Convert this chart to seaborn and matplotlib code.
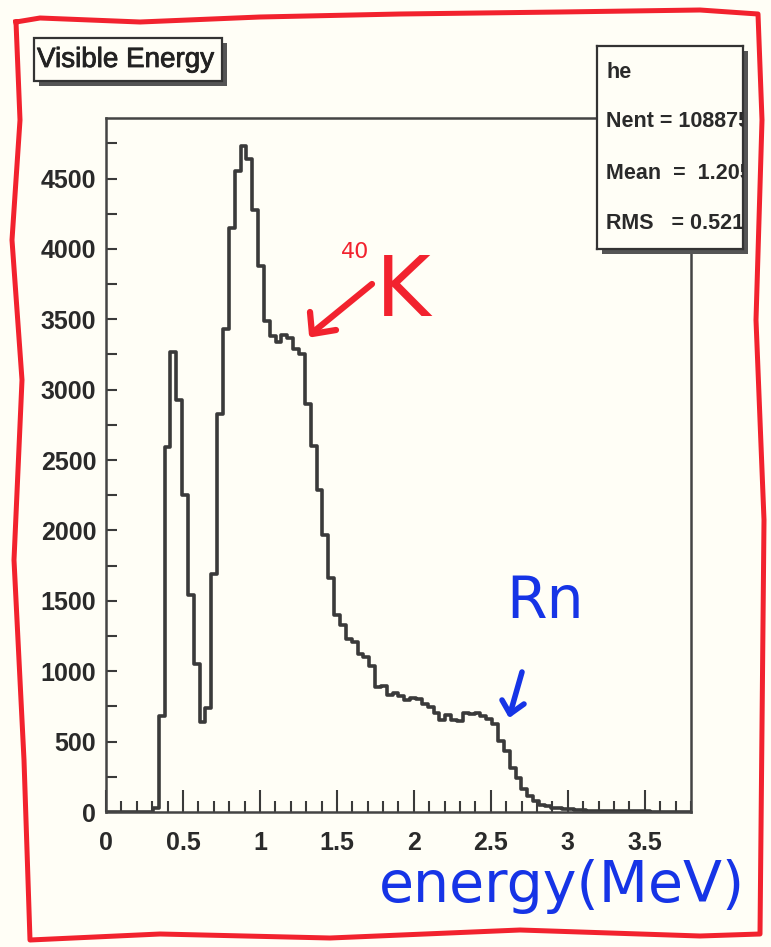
import numpy as np
import pandas as pd
import matplotlib
matplotlib.use("Agg")
import matplotlib.pyplot as plt
import matplotlib.patheffects as pe
import seaborn as sns
from matplotlib.patches import Rectangle
from matplotlib.lines import Line2D
from matplotlib.ticker import MultipleLocator, FuncFormatter

# histogram "he" : visible energy, 100 bins from 0 to 3.8 MeV
x_min, x_max, n_bins = 0.0, 3.8, 100
counts = [
    0, 0, 0, 0, 0, 0, 0, 3, 25,
    680, 2590, 3270, 2930, 2250, 1540, 1050, 640, 740, 1690, 2830,
    3430, 4150, 4550, 4730, 4640, 4280, 3880, 3490,
    3380, 3340, 3390, 3370, 3290, 3250, 2900, 2600, 2285, 1968,
    1664, 1400, 1330, 1230, 1205, 1120, 1100, 1040,
    885, 895, 830, 845, 825, 795, 810, 805, 765, 745, 700, 650,
    690, 655, 645, 700, 695, 700, 680, 660, 625, 505, 435, 315,
    240, 165, 115, 75,
    50, 40, 30, 25, 20, 18, 15, 12, 10, 10, 8, 8, 7, 6, 6, 5,
    5, 4, 4, 3, 3, 3, 2, 2, 2, 1,
]
stats_lines = ["he", "Nent = 108875", "Mean  =  1.205", "RMS   = 0.5212"]
title = "Visible Energy"

plt.rcParams["font.family"] = ["Liberation Sans", "DejaVu Sans"]

W, H = 771, 947
paper = "#fffef6"
ink = "#3a3a3a"
red = "#f2222e"
blue = "#1634e6"


def fx(px):
    return px / W


def fy(py):
    return 1 - py / H


fig = plt.figure(figsize=(W / 100, H / 100), dpi=100)
fig.patch.set_facecolor(paper)

# main frame
ax = fig.add_axes([fx(106), fy(812), fx(691) - fx(106), fy(118) - fy(812)])
ax.set_facecolor("none")

bin_w = (x_max - x_min) / n_bins
df = pd.DataFrame({"energy": x_min + bin_w * (np.arange(n_bins) + 0.5),
                   "count": np.asarray(counts, dtype=float)})
sns.histplot(data=df, x="energy", weights="count", bins=n_bins,
             binrange=(x_min, x_max), element="step", fill=False,
             color=ink, linewidth=2.6, ax=ax)

ax.set_xlim(x_min, x_max)
ax.set_ylim(0, 4930)
ax.set_xlabel("")
ax.set_ylabel("")
for s in ax.spines.values():
    s.set_color("#444444")
    s.set_linewidth(1.8)

ax.xaxis.set_major_locator(MultipleLocator(0.5))
ax.xaxis.set_minor_locator(MultipleLocator(0.1))
ax.yaxis.set_major_locator(MultipleLocator(500))
ax.yaxis.set_minor_locator(MultipleLocator(250))
ax.xaxis.set_major_formatter(FuncFormatter(lambda v, p: "%g" % v))
ax.tick_params(axis="x", which="major", direction="in", length=16, width=1.5,
               color=ink, pad=14, labelsize=18, labelcolor="#2a2a2a")
ax.tick_params(axis="x", which="minor", direction="in", length=8, width=1.5, color=ink)
ax.tick_params(axis="y", which="major", direction="in", length=8, width=1.5,
               color=ink, pad=7, labelsize=18, labelcolor="#2a2a2a")
ax.tick_params(axis="y", which="minor", direction="in", length=8, width=1.5, color=ink)
for lab in ax.get_xticklabels() + ax.get_yticklabels():
    lab.set_fontweight("bold")

# title box with shadow
fig.patches.append(Rectangle((fx(39), fy(86)), fx(188), fy(38) - fy(81),
                             transform=fig.transFigure, facecolor="#555555",
                             edgecolor="none", zorder=3))
fig.patches.append(Rectangle((fx(34), fy(81)), fx(188), fy(38) - fy(81),
                             transform=fig.transFigure, facecolor=paper,
                             edgecolor="#333333", linewidth=1.6, zorder=4))
fig.text(fx(37), fy(60), title, fontsize=20, color="#222222",
         va="center", ha="left", zorder=5,
         path_effects=[pe.withStroke(linewidth=0.6, foreground="#222222")])

# stats box with shadow
fig.patches.append(Rectangle((fx(602), fy(254)), fx(146), fy(46) - fy(249),
                             transform=fig.transFigure, facecolor="#555555",
                             edgecolor="none", zorder=4))
sax = fig.add_axes([fx(597), fy(249), fx(146), fy(46) - fy(249)])
sax.set_zorder(5)
sax.set_facecolor(paper)
sax.set_xticks([])
sax.set_yticks([])
for s in sax.spines.values():
    s.set_color("#333333")
    s.set_linewidth(1.6)
for txt, yy in zip(stats_lines, [0.867, 0.626, 0.374, 0.128]):
    sax.text(0.062, yy, txt, transform=sax.transAxes, fontsize=15.5,
             fontweight="bold", color="#2a2a2a", va="center", ha="left",
             clip_on=True)

# hand-written notes
fig.text(fx(355), fy(252), "40", fontsize=16, color=red, ha="center", va="center",
         family="DejaVu Sans")
fig.text(fx(403), fy(292), "K", fontsize=60, color=red, ha="center", va="center",
         family="DejaVu Sans")
fig.add_artist(Line2D([fx(372), fx(312)], [fy(284), fy(333)], color=red, linewidth=4.5,
                      transform=fig.transFigure, solid_capstyle="round"))
fig.add_artist(Line2D([fx(310), fx(312), fx(336)], [fy(312), fy(334), fy(330)],
                      color=red, linewidth=4.5, transform=fig.transFigure,
                      solid_capstyle="round", solid_joinstyle="round"))

fig.text(fx(545), fy(602), "Rn", fontsize=42, color=blue, ha="center", va="center",
         family="DejaVu Sans")
fig.add_artist(Line2D([fx(522), fx(510)], [fy(672), fy(714)], color=blue, linewidth=4,
                      transform=fig.transFigure, solid_capstyle="round"))
fig.add_artist(Line2D([fx(502), fx(510), fx(524)], [fy(700), fy(714), fy(704)],
                      color=blue, linewidth=4, transform=fig.transFigure,
                      solid_capstyle="round", solid_joinstyle="round"))

fig.text(fx(562), fy(886), "energy(MeV)", fontsize=41, color=blue, ha="center",
         va="center", family="DejaVu Sans")

# red hand-drawn frame around the page
bx = [16, 40, 140, 260, 400, 560, 700, 758, 762, 756, 764, 760, 700, 520, 330, 160, 30,
      24, 14, 22, 12, 20, 16]
by = [22, 18, 22, 17, 14, 12, 10, 14, 120, 320, 520, 934, 936, 930, 938, 934, 940,
      760, 560, 380, 240, 120, 22]
fig.add_artist(Line2D([fx(v) for v in bx], [fy(v) for v in by], color=red, linewidth=3.6,
                      transform=fig.transFigure, solid_joinstyle="round"))

fig.savefig("out.png", dpi=100, facecolor=fig.get_facecolor())
